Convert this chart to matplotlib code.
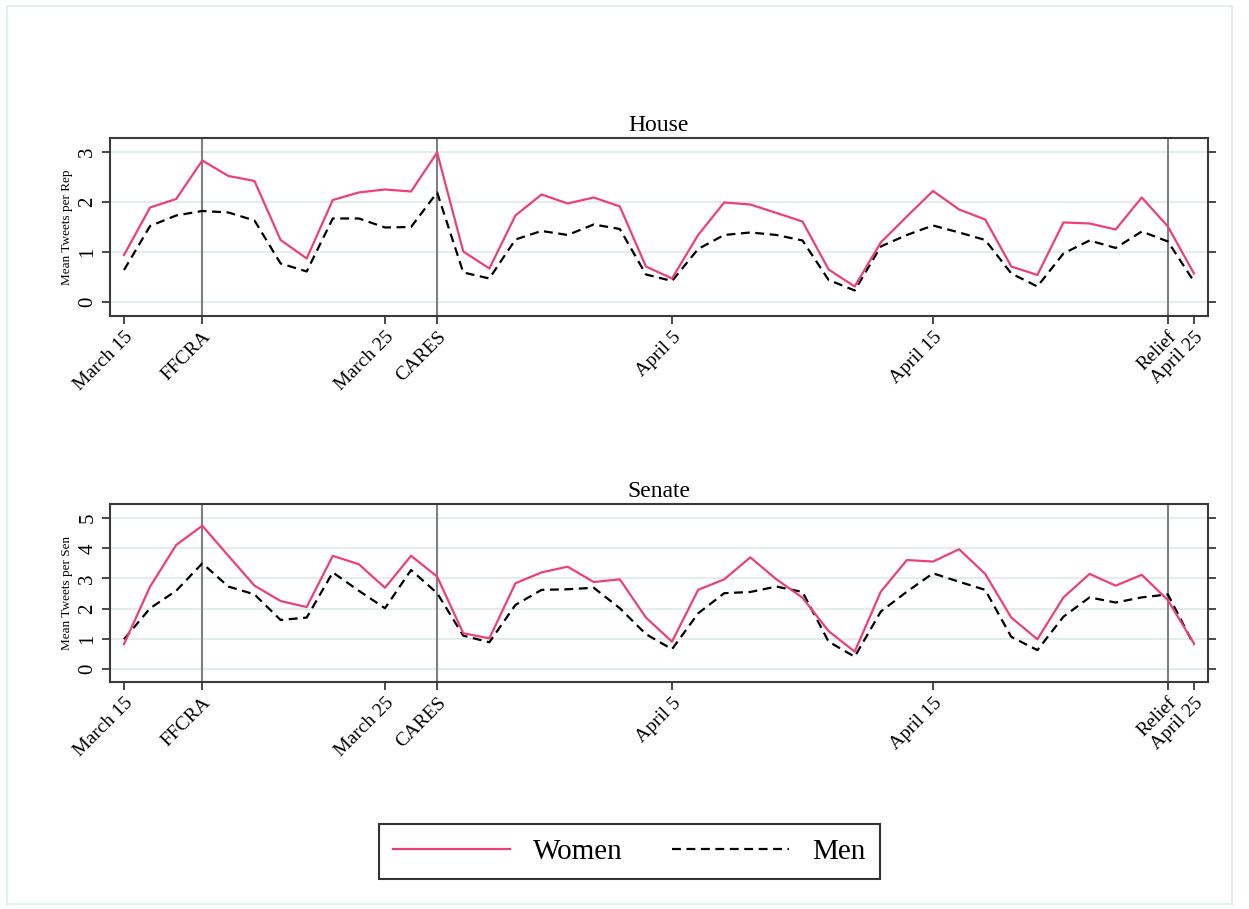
import numpy as np
import matplotlib
matplotlib.use('Agg')
import matplotlib.pyplot as plt
from matplotlib.patches import Rectangle

plt.rcParams['font.family'] = ['Liberation Serif', 'DejaVu Serif']

# days since March 15 (March 15 .. April 25)
days = np.arange(42)

house_women = [0.94, 1.89, 2.06, 2.83, 2.52, 2.42, 1.24, 0.87, 2.04, 2.19,
               2.25, 2.21, 2.99, 1.01, 0.67, 1.73, 2.15, 1.97, 2.09, 1.91,
               0.71, 0.47, 1.34, 1.99, 1.95, 1.78, 1.61, 0.65, 0.31, 1.19,
               1.71, 2.22, 1.85, 1.65, 0.71, 0.54, 1.59, 1.57, 1.45, 2.09,
               1.51, 0.57]
house_men = [0.64, 1.52, 1.73, 1.82, 1.79, 1.63, 0.77, 0.61, 1.67, 1.67,
             1.49, 1.50, 2.19, 0.59, 0.47, 1.25, 1.42, 1.34, 1.55, 1.46,
             0.55, 0.42, 1.06, 1.34, 1.39, 1.34, 1.23, 0.44, 0.23, 1.11,
             1.34, 1.53, 1.39, 1.24, 0.57, 0.31, 0.97, 1.23, 1.08, 1.41,
             1.21, 0.41]
senate_women = [0.82, 2.73, 4.11, 4.75, 3.75, 2.76, 2.25, 2.05, 3.75, 3.47,
                2.69, 3.75, 3.06, 1.18, 1.01, 2.84, 3.20, 3.39, 2.88, 2.97,
                1.70, 0.90, 2.62, 2.97, 3.70, 2.97, 2.36, 1.25, 0.57, 2.56,
                3.61, 3.56, 3.97, 3.15, 1.70, 0.98, 2.37, 3.15, 2.76, 3.12,
                2.28, 0.84]
senate_men = [0.98, 2.01, 2.59, 3.50, 2.73, 2.47, 1.62, 1.70, 3.20, 2.59,
              2.01, 3.28, 2.51, 1.10, 0.88, 2.12, 2.62, 2.64, 2.69, 2.01,
              1.15, 0.65, 1.84, 2.51, 2.55, 2.73, 2.55, 0.90, 0.40, 1.90,
              2.56, 3.17, 2.89, 2.62, 1.06, 0.62, 1.73, 2.37, 2.20, 2.37,
              2.47, 0.79]

tick_days = [0, 3, 10, 12, 21, 31, 40, 41]
tick_labels = ['March 15', 'FFCRA', 'March 25', 'CARES', 'April 5',
               'April 15', 'Relief', 'April 25']
event_days = [3, 12, 40]

pink = '#ec407a'
grid_c = '#e4ecee'
spine_c = '#3a3a3a'

fig = plt.figure(figsize=(12.49, 9.09), dpi=100)
fig.patches.append(Rectangle((7 / 1249, 1 - 904 / 909), 1225 / 1249, 898 / 909,
                             transform=fig.transFigure, fill=False,
                             edgecolor='#e6edf0', linewidth=1.5))

panels = [
    ('House', house_women, house_men, 'Mean Tweets per Rep',
     [0.6524, 0.1958], (-0.28, 3.28), [0, 1, 2, 3]),
    ('Senate', senate_women, senate_men, 'Mean Tweets per Sen',
     [0.2497, 0.1958], (-0.44, 5.47), [0, 1, 2, 3, 4, 5]),
]

for title, w, m, ylab, (bot, h), ylim, yticks in panels:
    ax = fig.add_axes([0.088, bot, 0.879, h])
    for yt in yticks:
        ax.axhline(yt, color=grid_c, lw=1.5, zorder=0)
    for d in event_days:
        ax.axvline(d, color='#808080', lw=1.5, zorder=1)
    ax.plot(days, w, color=pink, lw=1.6, zorder=3, label='Women')
    ax.plot(days, m, color='black', lw=1.6, ls=(0, (4, 2.5)), zorder=2,
            label='Men')
    ax.set_xlim(-0.54, 41.53)
    ax.set_ylim(*ylim)
    ax.set_xticks(tick_days)
    ax.set_xticklabels(tick_labels, rotation=45, ha='right',
                       rotation_mode='anchor', fontsize=14)
    ax.set_yticks(yticks)
    ax.set_yticklabels([str(v) for v in yticks], rotation=90, va='center',
                       fontsize=15)
    ax.tick_params(axis='both', direction='out', length=6, width=1.3,
                   color=spine_c, pad=3)
    ax.tick_params(axis='y', right=True, labelright=False)
    for sp in ax.spines.values():
        sp.set_color(spine_c)
        sp.set_linewidth(1.5)
    ax.set_ylabel(ylab, fontsize=9.5, labelpad=4)
    ax.set_title(title, fontsize=17, pad=5)

handles, labels = ax.get_legend_handles_labels()
leg = fig.legend(handles, labels, loc='center',
                 bbox_to_anchor=(629.5 / 1249, 1 - 851.5 / 909), ncol=2,
                 fontsize=21, frameon=True, fancybox=False, handlelength=4,
                 handletextpad=0.8, columnspacing=1.7, borderpad=0.5)
leg.get_frame().set_edgecolor('black')
leg.get_frame().set_linewidth(1.5)

fig.savefig('out.png', dpi=100)
